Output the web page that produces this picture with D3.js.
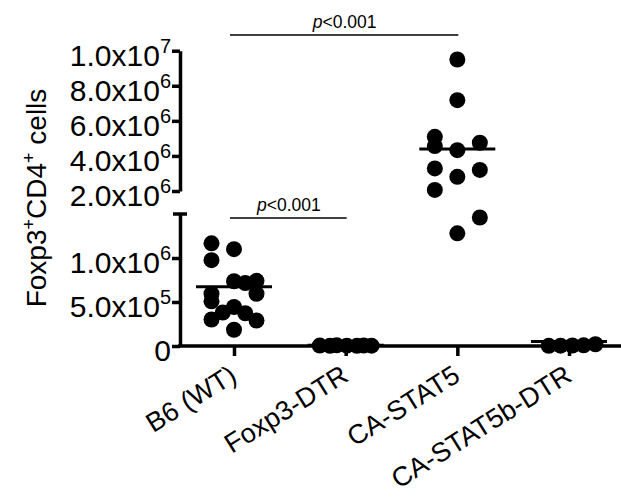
<!DOCTYPE html>
<html>
<head>
<meta charset="utf-8">
<script src="https://cdn.jsdelivr.net/npm/d3@7"></script>
<style>
  body { margin: 0; background: #fff; }
  svg { display: block; font-family: "Liberation Sans", Arial, sans-serif; }
</style>
</head>
<body>
<div class="graph-foxp3"></div>
<script>
const categories = ["B6 (WT)", "Foxp3-DTR", "CA-STAT5", "CA-STAT5b-DTR"];

// cells per mouse; lanes = column the dot was nudged into
const wtCells = [1.167e6, 1.100e6, 0.975e6, 0.736e6, 0.716e6, 0.741e6, 0.594e6, 0.594e6, 0.508e6, 0.443e6, 0.381e6, 0.372e6, 0.301e6, 0.290e6, 0.185e6];
const wtLanes = [-2, 0, -2, 0, 1, 2, -2, 2, -2, 0, -1, 1, -2, 2, 0];

const foxp3DtrCells = [0.005e6, 0.002e6, 0.008e6, 0.004e6, 0.002e6, 0.006e6, 0.004e6];
const foxp3DtrLanes = [-2.3, -1.4, -0.8, 0.1, 1.0, 1.6, 2.3];

const stat5Cells = [9.5e6, 7.18e6, 5.09e6, 4.56e6, 4.75e6, 4.33e6, 3.29e6, 3.20e6, 2.81e6, 2.06e6, 1.46e6, 1.28e6];
const stat5Lanes = [0, 0, -2, -2, 2, 0, -2, 2, 0, -2, 2, 0];

const stat5DtrCells = [0.002e6, 0.004e6, 0.006e6, 0.008e6, 0.02e6];
const stat5DtrLanes = [-1.8, -0.75, 0.3, 1.3, 2.35];

const centreLines = [0.674e6, 0.008e6, 4.39e6, 0.05e6];

const upperTicks = [2e6, 4e6, 6e6, 8e6, 1e7];
const lowerTicks = [0, 5e5, 1e6];

const comparisons = [["B6 (WT)", "CA-STAT5"], ["B6 (WT)", "Foxp3-DTR"]];
const pValues = ["<0.001", "<0.001"];

const width = 621;
const height = 500;
const radius = 8;
const laneWidth = 11.25;
const lineHalf = 38;

const groups = [
    { name: categories[0], values: wtCells, lanes: wtLanes },
    { name: categories[1], values: foxp3DtrCells, lanes: foxp3DtrLanes },
    { name: categories[2], values: stat5Cells, lanes: stat5Lanes },
    { name: categories[3], values: stat5DtrCells, lanes: stat5DtrLanes }
];

const x = d3.scalePoint()
    .domain(categories)
    .range([234, 569]);

// broken y axis: two linear pieces
const yLower = d3.scaleLinear().domain([0, 1.5e6]).range([346, 214]);
const yUpper = d3.scaleLinear().domain([2e6, 1e7]).range([191, 50.7]);
const y = function (v) {
    return v <= 1.5e6 ? yLower(v) : yUpper(v);
};

const svg = d3.select(".graph-foxp3")
    .append("svg")
    .attr("width", width)
    .attr("height", height);

// y axes
function styleY(g) {
    g.selectAll("path, line")
        .attr("stroke", "#000")
        .attr("stroke-width", 3.5);
    g.selectAll("text").each(function (d) {
        const t = d3.select(this)
            .attr("x", -9)
            .attr("dy", null)
            .attr("y", 14.5)
            .attr("fill", "#000")
            .style("font-size", "30px")
            .text(null);
        if (d === 0) {
            t.text("0");
            return;
        }
        const exp = Math.floor(Math.log10(d));
        t.append("tspan").text((d / Math.pow(10, exp)).toFixed(1) + "x10");
        t.append("tspan")
            .attr("dy", -13)
            .style("font-size", "20px")
            .text(exp);
    });
}

svg.append("g")
    .attr("transform", "translate(180,0)")
    .call(d3.axisLeft(yLower).tickValues(lowerTicks).tickSize(8).tickSizeOuter(0))
    .call(styleY);

svg.append("g")
    .attr("transform", "translate(180,0)")
    .call(d3.axisLeft(yUpper).tickValues(upperTicks).tickSize(8).tickSizeOuter(0))
    .call(styleY);

svg.append("line")
    .attr("x1", 173).attr("x2", 187)
    .attr("y1", yLower(1.5e6)).attr("y2", yLower(1.5e6))
    .attr("stroke", "#000")
    .attr("stroke-width", 3.5);

// x axis
const xAxis = svg.append("g")
    .attr("transform", "translate(0," + yLower(0) + ")")
    .call(d3.axisBottom(x).tickSize(10).tickSizeOuter(0));

xAxis.select(".domain").remove();
xAxis.selectAll("line")
    .attr("stroke", "#000")
    .attr("stroke-width", 3.5);
xAxis.selectAll("text")
    .attr("x", 0)
    .attr("y", 0)
    .attr("dy", null)
    .attr("fill", "#000")
    .attr("text-anchor", "end")
    .attr("transform", "translate(4,34) rotate(-32)")
    .style("font-size", "27px");

svg.append("line")
    .attr("x1", 178).attr("x2", width)
    .attr("y1", yLower(0)).attr("y2", yLower(0))
    .attr("stroke", "#000")
    .attr("stroke-width", 3.5);

// y title
const title = svg.append("text")
    .attr("transform", "translate(46,198) rotate(-90)")
    .attr("text-anchor", "middle")
    .style("font-size", "28px");
title.append("tspan").text("Foxp3");
title.append("tspan").attr("dy", -11).style("font-size", "18px").text("+");
title.append("tspan").attr("dy", 11).text("CD4");
title.append("tspan").attr("dy", -11).style("font-size", "18px").text("+");
title.append("tspan").attr("dy", 11).text(" cells");

// dots
svg.append("g")
    .selectAll("g")
    .data(groups)
    .enter()
    .append("g")
    .selectAll("circle")
    .data(function (g) {
        return g.values.map(function (v, i) {
            return { name: g.name, value: v, lane: g.lanes[i] };
        });
    })
    .enter()
    .append("circle")
    .attr("cx", d => x(d.name) + d.lane * laneWidth)
    .attr("cy", d => y(d.value))
    .attr("r", radius)
    .attr("fill", "#000");

// centre lines
svg.append("g")
    .selectAll("line")
    .data(categories)
    .enter()
    .append("line")
    .attr("x1", d => x(d) - lineHalf)
    .attr("x2", d => x(d) + lineHalf)
    .attr("y1", (d, i) => y(centreLines[i]))
    .attr("y2", (d, i) => y(centreLines[i]))
    .attr("stroke", "#000")
    .attr("stroke-width", 3);

// significance bars
const barY = [35, 218];
const sig = svg.append("g")
    .selectAll("g")
    .data(comparisons)
    .enter()
    .append("g");

sig.append("line")
    .attr("x1", d => x(d[0]) - 4)
    .attr("x2", d => x(d[1]) + 1)
    .attr("y1", (d, i) => barY[i])
    .attr("y2", (d, i) => barY[i])
    .attr("stroke", "#000")
    .attr("stroke-width", 1.6);

const pText = sig.append("text")
    .attr("x", d => (x(d[0]) + x(d[1])) / 2 - 1)
    .attr("y", (d, i) => barY[i] - 7)
    .attr("text-anchor", "middle")
    .style("font-size", "17.5px");
pText.append("tspan").style("font-style", "italic").text("p");
pText.append("tspan").text((d, i) => pValues[i]);
</script>
</body>
</html>
